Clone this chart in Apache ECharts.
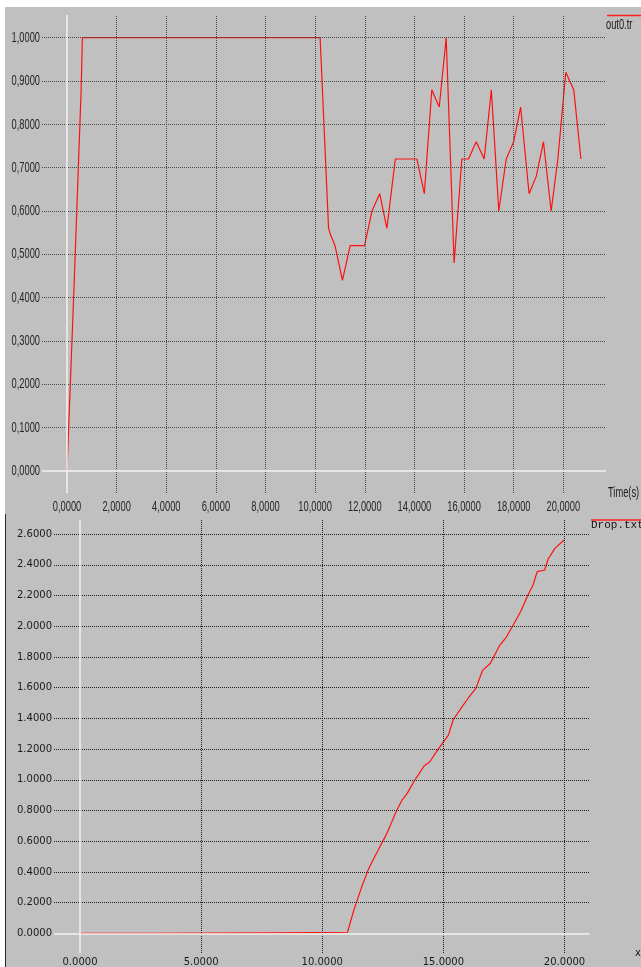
<!DOCTYPE html>
<html>
<head>
<meta charset="utf-8">
<script src="https://cdn.jsdelivr.net/npm/echarts@6/dist/echarts.min.js"></script>
<style>
  html, body { margin: 0; padding: 0; background: #ffffff; width: 641px; height: 967px; overflow: hidden; }
  #bg { position: absolute; left: 5px; top: 7px; width: 636px; height: 960px; background: #c0c0c0; }
  #edge { position: absolute; left: 5px; top: 514px; width: 1px; height: 453px; background: #2a2a2a; }
  #chart { position: absolute; left: 0; top: 0; width: 641px; height: 967px; }
</style>
</head>
<body>
<div id="bg"></div>
<div id="edge"></div>
<div id="chart"></div>
<script>
// Throughput trace (out0.tr): time in seconds and measured value
const outTime = [0, 0.28, 0.57, 0.62, 10.2, 10.54, 10.62, 10.8, 11.1, 11.41, 11.99, 12.29, 12.6, 12.89,
  13.23, 14.1, 14.4, 14.7, 15.0, 15.28, 15.6, 15.91, 16.18, 16.49, 16.81, 17.1, 17.4, 17.7,
  18.0, 18.28, 18.62, 18.91, 19.2, 19.51, 19.78, 20.1, 20.42, 20.71];
const outValue = [0, 0.42, 0.88, 1.0, 1.0, 0.56, 0.545, 0.52, 0.44, 0.52, 0.52, 0.6, 0.64, 0.56,
  0.72, 0.72, 0.64, 0.88, 0.84, 1.0, 0.48, 0.72, 0.72, 0.76, 0.72, 0.88, 0.6, 0.72,
  0.76, 0.84, 0.64, 0.68, 0.76, 0.6, 0.72, 0.92, 0.88, 0.72];

// Cumulative drops (Drop.txt)
const dropTime = [0, 2.75, 2.77, 8.28, 8.3, 11.04, 11.3, 11.6, 11.89, 12.1, 12.3, 12.45, 12.6, 12.8,
  13.06, 13.3, 13.5, 13.82, 14.0, 14.2, 14.44, 14.7, 14.99, 15.2, 15.4, 15.7, 16.05, 16.34,
  16.61, 16.94, 17.33, 17.6, 17.88, 18.2, 18.49, 18.7, 18.87, 19.18, 19.32, 19.6, 19.98];
const dropValue = [0, 0, 0.003, 0.003, 0.007, 0.007, 0.15, 0.29, 0.412, 0.48, 0.54, 0.586, 0.63, 0.7,
  0.797, 0.87, 0.91, 0.999, 1.04, 1.09, 1.118, 1.18, 1.244, 1.29, 1.39, 1.46, 1.538, 1.596,
  1.711, 1.759, 1.878, 1.93, 2.009, 2.1, 2.204, 2.269, 2.356, 2.367, 2.437, 2.508, 2.562];

// Tick labels
const topXTicks = [0, 2, 4, 6, 8, 10, 12, 14, 16, 18, 20];
const topYTicks = [0, 0.1, 0.2, 0.3, 0.4, 0.5, 0.6, 0.7, 0.8, 0.9, 1.0];
const bottomXTicks = [0, 5, 10, 15, 20];
const bottomYTicks = [0, 0.2, 0.4, 0.6, 0.8, 1.0, 1.2, 1.4, 1.6, 1.8, 2.0, 2.2, 2.4, 2.6];

const zip = (a, b) => a.map((v, i) => [v, b[i]]);

// The upper panel uses a tall, narrow face: a regular sans squeezed horizontally
const NARROW_FONT = "15px 'Liberation Sans', Arial, sans-serif";
const NARROW_SCALE = 0.62;
const SMALL = "'DejaVu Sans', sans-serif";
const MONO = "'Liberation Mono', 'DejaVu Sans Mono', monospace";
const commaFmt = v => v.toFixed(4).replace('.', ',');

// Background grid drawn as dotted lines at tick values (zero lines are solid white axes)
function gridLines(xs, ys, color) {
  const dotted = { color: color, width: 1, type: [1, 1] };
  const data = [];
  xs.filter(v => v !== 0).forEach(v => data.push({ xAxis: v, lineStyle: dotted }));
  ys.filter(v => v !== 0).forEach(v => data.push({ yAxis: v, lineStyle: dotted }));
  data.push({ xAxis: 0, lineStyle: { color: '#f2f2f2', width: 1.5, type: 'solid' } });
  data.push({ yAxis: 0, lineStyle: { color: '#f2f2f2', width: 1.5, type: 'solid' } });
  return {
    silent: true, symbol: ['none', 'none'], label: { show: false },
    emphasis: { disabled: true }, animation: false, data: data
  };
}

// Narrow tick labels placed through the grid's own coordinate conversion
function narrowLabels(ticks, isX, gap) {
  return {
    type: 'custom', xAxisIndex: 0, yAxisIndex: 0, silent: true, clip: false, z: 5,
    data: ticks.map(v => isX ? [v, 0] : [0, v]),
    renderItem: function (params, api) {
      const cs = params.coordSys;
      const v = isX ? api.value(0) : api.value(1);
      const p = api.coord([api.value(0), api.value(1)]);
      return {
        type: 'text',
        x: isX ? p[0] : cs.x - gap,
        y: isX ? cs.y + cs.height + gap : p[1],
        scaleX: NARROW_SCALE,
        style: {
          text: commaFmt(v), font: NARROW_FONT, fill: '#262626',
          align: isX ? 'center' : 'right', verticalAlign: isX ? 'top' : 'middle'
        }
      };
    }
  };
}

const chart = echarts.init(document.getElementById('chart'), null, { renderer: 'canvas' });

chart.setOption({
  animation: false,
  backgroundColor: 'transparent',
  grid: [
    { left: 42, top: 15, width: 564, height: 478, outerBoundsMode: 'none', containLabel: false },
    { left: 54, top: 520, width: 535.5, height: 433, outerBoundsMode: 'none', containLabel: false }
  ],
  xAxis: [
    {
      type: 'value', gridIndex: 0, min: -1.0075, max: 21.72,
      axisLine: { show: false, onZero: false }, axisTick: { show: false }, splitLine: { show: false },
      axisLabel: { show: false }
    },
    {
      type: 'value', gridIndex: 1, min: -1.073, max: 21.03,
      axisLine: { show: false, onZero: false }, axisTick: { show: false }, splitLine: { show: false },
      axisLabel: {
        customValues: bottomXTicks, margin: 4, color: '#1a1a1a',
        fontFamily: SMALL, fontSize: 10,
        formatter: v => v.toFixed(4)
      }
    }
  ],
  yAxis: [
    {
      type: 'value', gridIndex: 0, min: -0.0508, max: 1.0524,
      axisLine: { show: false, onZero: false }, axisTick: { show: false }, splitLine: { show: false },
      axisLabel: { show: false }
    },
    {
      type: 'value', gridIndex: 1, min: -0.128, max: 2.6925,
      axisLine: { show: false, onZero: false }, axisTick: { show: false }, splitLine: { show: false },
      axisLabel: {
        customValues: bottomYTicks, margin: 2, color: '#1a1a1a',
        fontFamily: SMALL, fontSize: 10,
        formatter: v => v.toFixed(4)
      }
    }
  ],
  series: [
    {
      type: 'line', xAxisIndex: 0, yAxisIndex: 0, z: 1, data: [],
      markLine: gridLines(topXTicks, topYTicks, '#4a4a4a')
    },
    {
      type: 'line', xAxisIndex: 1, yAxisIndex: 1, z: 1, data: [],
      markLine: gridLines(bottomXTicks, bottomYTicks, '#1e1e1e')
    },
    narrowLabels(topXTicks, true, 6),
    narrowLabels(topYTicks, false, 2),
    {
      name: 'out0.tr', type: 'line', xAxisIndex: 0, yAxisIndex: 0, z: 3,
      showSymbol: false, silent: true,
      lineStyle: { color: '#ff1010', width: 1.2 },
      data: zip(outTime, outValue)
    },
    {
      name: 'Drop.txt', type: 'line', xAxisIndex: 1, yAxisIndex: 1, z: 3,
      showSymbol: false, silent: true,
      lineStyle: { color: '#ff1010', width: 1.2 },
      data: zip(dropTime, dropValue)
    }
  ],
  graphic: [
    { type: 'line', shape: { x1: 607, y1: 15.5, x2: 641, y2: 15.5 }, style: { stroke: '#ff2020', lineWidth: 1.5 } },
    { type: 'text', x: 606, y: 17, scaleX: NARROW_SCALE, style: { text: 'out0.tr', font: NARROW_FONT, fill: '#1a1a1a' } },
    { type: 'text', x: 608, y: 485, scaleX: NARROW_SCALE, style: { text: 'Time(s)', font: NARROW_FONT, fill: '#1a1a1a' } },
    { type: 'line', shape: { x1: 591, y1: 520, x2: 641, y2: 520 }, style: { stroke: '#ff2020', lineWidth: 1.5 } },
    { type: 'text', x: 591, y: 519.5, style: { text: 'Drop.txt', font: '11px ' + MONO, fill: '#111111' } },
    { type: 'text', x: 635, y: 948, style: { text: 'x', font: '10px ' + SMALL, fill: '#1a1a1a' } }
  ]
});
</script>
</body>
</html>
